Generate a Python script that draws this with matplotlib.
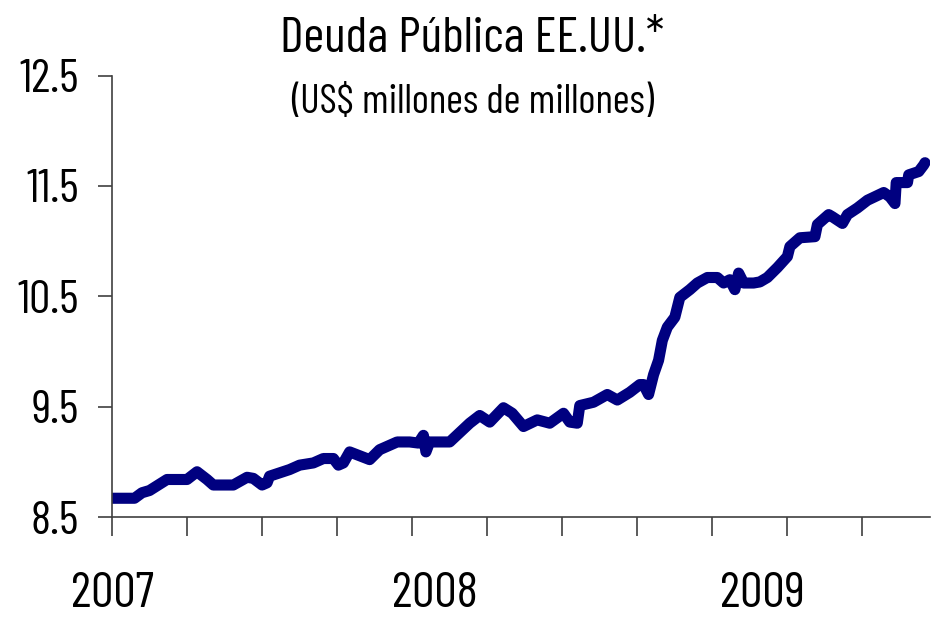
"""
Deuda Publica EE.UU. - daily series 2007 to mid 2009
"""

import matplotlib.pyplot as plt
import matplotlib.transforms as mtransforms

plt.rcParams['font.family'] = ['Barlow Condensed', 'Liberation Sans', 'DejaVu Sans']

# ── Data (business-day index, US$ millones de millones) ─────
days = [0, 18, 24, 30, 37, 44, 60, 68, 76, 81, 97, 108, 113, 120, 124, 126,
        134, 142, 150, 161, 169, 177, 181, 185, 190, 206, 214, 228, 238, 245,
        249, 251, 254, 270, 286, 294, 302, 313, 320, 329, 340, 350, 361, 366,
        372, 374, 385, 396, 404, 414, 422, 425, 429, 433, 437, 440, 444, 450,
        454, 462, 468, 476, 484, 489, 494, 498, 501, 505, 513, 518, 524, 532,
        540, 542, 550, 562, 564, 573, 576, 584, 588, 596, 604, 617, 622, 626,
        627, 636, 637, 645, 649, 650]
debt = [8.67, 8.67, 8.72, 8.74, 8.79, 8.84, 8.84, 8.91, 8.84, 8.79, 8.79,
        8.86, 8.85, 8.79, 8.81, 8.87, 8.90, 8.93, 8.97, 8.99, 9.03, 9.03,
        8.97, 8.99, 9.09, 9.02, 9.11, 9.18, 9.18, 9.17, 9.24, 9.09, 9.18,
        9.18, 9.35, 9.42, 9.36, 9.49, 9.44, 9.32, 9.38, 9.35, 9.44, 9.36,
        9.35, 9.51, 9.54, 9.61, 9.56, 9.63, 9.70, 9.70, 9.61, 9.79, 9.92,
        10.10, 10.22, 10.31, 10.49, 10.56, 10.62, 10.67, 10.67, 10.62, 10.65,
        10.56, 10.71, 10.62, 10.62, 10.63, 10.67, 10.76, 10.86, 10.95, 11.03,
        11.04, 11.15, 11.24, 11.22, 11.16, 11.24, 11.30, 11.37, 11.44, 11.40,
        11.34, 11.53, 11.53, 11.60, 11.63, 11.69, 11.71]

year_labels = ['2007', '2008', '2009']
year_pos = [0, 258, 520]

y_ticks = [8.5, 9.5, 10.5, 11.5, 12.5]

# ── Plot ─────────────────────────────────────────────────────
fig = plt.figure(figsize=(9.34, 6.18), dpi=100)
ax = fig.add_axes([0.1199, 0.1634, 0.8758, 0.7144])

ax.plot(days, debt, color='#000080', linewidth=8,
        solid_capstyle='round', solid_joinstyle='round')

ax.set_xlim(0, 654)
ax.set_ylim(8.5, 12.5)
ax.set_yticks(y_ticks)
ax.set_yticklabels([f'{v:.1f}' for v in y_ticks], fontsize=34)
ax.set_xticks(range(0, 654, 60))
ax.set_xticklabels([])

ax.spines['top'].set_visible(False)
ax.spines['right'].set_visible(False)
for s in ('left', 'bottom'):
    ax.spines[s].set_color('#404040')
    ax.spines[s].set_linewidth(1.2)
ax.tick_params(axis='y', length=10, width=1.2, color='#404040', pad=14)
ax.tick_params(axis='x', length=14, width=1.2, color='#404040')

trans = mtransforms.blended_transform_factory(ax.transData, fig.transFigure)
for lbl, x in zip(year_labels, year_pos):
    ax.text(x, 0.002, lbl, transform=trans, ha='center', va='bottom',
            fontsize=36, clip_on=False)

fig.text(0.505, 0.916, 'Deuda Pública EE.UU.*', ha='center', va='baseline',
         fontsize=36.5)
fig.text(0.506, 0.817, '(US$ millones de millones)', ha='center',
         va='baseline', fontsize=29.5)

fig.savefig('out.png', dpi=100)
